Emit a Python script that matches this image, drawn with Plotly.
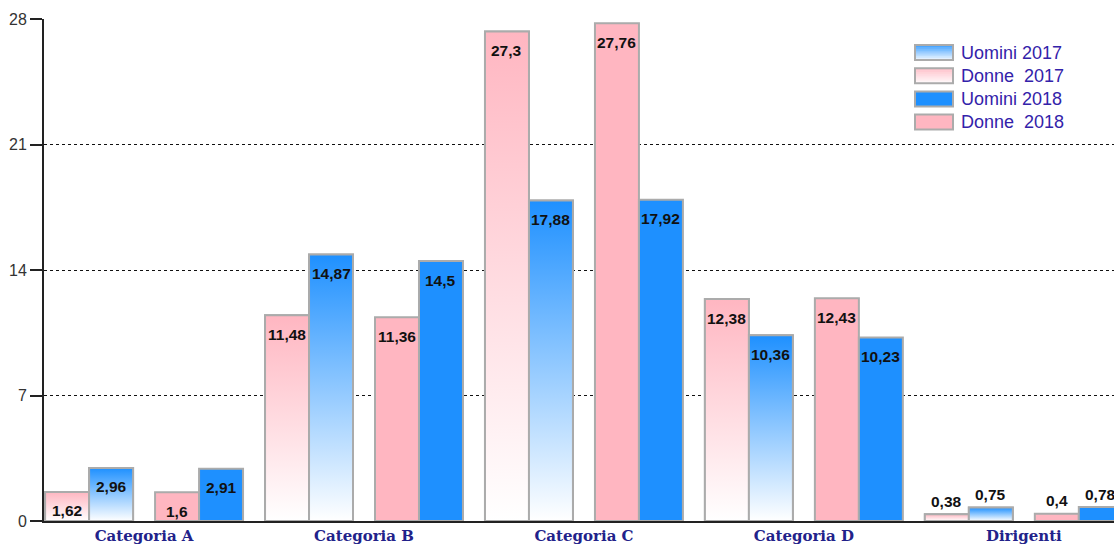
import plotly.graph_objects as go

categories = ["Categoria A", "Categoria B", "Categoria C", "Categoria D", "Dirigenti"]
donne_2017 = [1.62, 11.48, 27.3, 12.38, 0.38]
uomini_2017 = [2.96, 14.87, 17.88, 10.36, 0.75]
donne_2018 = [1.6, 11.36, 27.76, 12.43, 0.4]
uomini_2018 = [2.91, 14.5, 17.92, 10.23, 0.78]
y_ticks = [0, 7, 14, 21, 28]
legend_order = ["Uomini 2017", "Donne\u00a0 2017", "Uomini 2018", "Donne\u00a0 2018"]

PINK = "#FFB6C1"
BLUE = "#1E90FF"
EDGE = "#ABABAB"
W = 0.4  # width of one bar (pair = 0.8, gap 0.2)

x17 = [2 * i for i in range(len(categories))]
x18 = [2 * i + 1 for i in range(len(categories))]

series = {
    "Donne\u00a0 2017": (x17, donne_2017, PINK, -W, True),
    "Uomini 2017": (x17, uomini_2017, BLUE, 0.0, True),
    "Donne\u00a0 2018": (x18, donne_2018, PINK, -W, False),
    "Uomini 2018": (x18, uomini_2018, BLUE, 0.0, False),
}

fig = go.Figure()

for name, (xs, vals, col, off, grad) in series.items():
    fig.add_trace(go.Bar(
        x=xs, y=vals, name=name, offset=off, width=W,
        marker=dict(color=col, line=dict(color=EDGE, width=2)),
        textposition="none", showlegend=False,
    ))

# vertical gradient fills for the 2017 bars
for name, (xs, vals, col, off, grad) in series.items():
    if not grad:
        continue
    for xc, v in zip(xs, vals):
        x0 = xc + off
        x1 = x0 + W
        fig.add_trace(go.Scatter(
            x=[x0, x1, x1, x0, x0], y=[0, 0, v, v, 0],
            mode="lines", fill="toself",
            line=dict(color=EDGE, width=2),
            fillgradient=dict(type="vertical",
                              colorscale=[[0, "#FFFFFF"], [1, col]]),
            showlegend=False, hoverinfo="skip",
        ))

# value labels
for name, (xs, vals, col, off, grad) in series.items():
    for xc, v in zip(xs, vals):
        inside = v >= 1
        fig.add_annotation(
            x=xc + off + W / 2, y=v, xref="x", yref="y",
            text=f"{v:g}".replace(".", ","),
            showarrow=False, yanchor="middle",
            yshift=-19 if inside else 13,
            font=dict(family="Liberation Sans", size=15.5, color="#111111", weight="bold"),
        )

# legend (drawn manually to get wide swatches)
PL, PW, PT, PH = 44, 1070, 19, 502


def px_x(p):
    return (p - PL) / PW


def px_y(p):
    return (PT + PH - p) / PH


def mix(c, t):
    c = c.lstrip("#")
    r, g, b = (int(c[i:i + 2], 16) for i in (0, 2, 4))
    return "rgb(%d,%d,%d)" % (255 + (r - 255) * t, 255 + (g - 255) * t, 255 + (b - 255) * t)


for k, name in enumerate(legend_order):
    xs, vals, col, off, grad = series[name]
    cy = 52.5 + k * 23.2
    top, bot = cy - 7.5, cy + 7.5
    if grad:
        n = 8
        for j in range(n):
            y0 = top + (bot - top) * j / n
            y1 = min(bot, top + (bot - top) * (j + 1) / n + 1.0)
            fig.add_shape(type="rect", xref="paper", yref="paper",
                          x0=px_x(915), x1=px_x(953), y0=px_y(y1), y1=px_y(y0),
                          fillcolor=mix(col, 0.8 - 0.7 * j / (n - 1)),
                          line=dict(width=0), layer="above")
    else:
        fig.add_shape(type="rect", xref="paper", yref="paper",
                      x0=px_x(915), x1=px_x(953), y0=px_y(bot), y1=px_y(top),
                      fillcolor=col, line=dict(width=0), layer="above")
    fig.add_shape(type="rect", xref="paper", yref="paper",
                  x0=px_x(915), x1=px_x(953), y0=px_y(bot), y1=px_y(top),
                  fillcolor="rgba(0,0,0,0)", line=dict(color=EDGE, width=2), layer="above")
    fig.add_annotation(
        x=px_x(959), y=px_y(cy), xref="paper", yref="paper",
        xanchor="left", yanchor="middle", showarrow=False,
        text=name.replace("\u00a0", "&nbsp;"),
        font=dict(family="Liberation Sans", size=18, color="#3322AA"),
    )

fig.update_layout(
    width=1114, height=550,
    margin=dict(l=44, r=0, t=19, b=29),
    plot_bgcolor="white", paper_bgcolor="white",
    barmode="overlay",
    showlegend=False,
    xaxis=dict(
        range=[-0.41, 9.32],
        tickmode="array",
        tickvals=[2 * i + 0.5 for i in range(len(categories))],
        ticktext=categories,
        showgrid=False, zeroline=False,
        showline=True, linecolor="#222222", linewidth=2,
        ticks="",
        tickfont=dict(family="DejaVu Serif", size=15, color="#22228A", weight="bold"),
    ),
    yaxis=dict(
        range=[0, 28],
        tickmode="array", tickvals=y_ticks,
        ticktext=[str(t) for t in y_ticks],
        showgrid=True, gridcolor="#111111", griddash="dot", gridwidth=1,
        zeroline=False,
        showline=True, linecolor="#222222", linewidth=2,
        ticks="outside", ticklen=12, tickwidth=2, tickcolor="#222222",
        tickfont=dict(family="Liberation Sans", size=16, color="#333333"),
    ),
)

fig.write_html("out.html")
